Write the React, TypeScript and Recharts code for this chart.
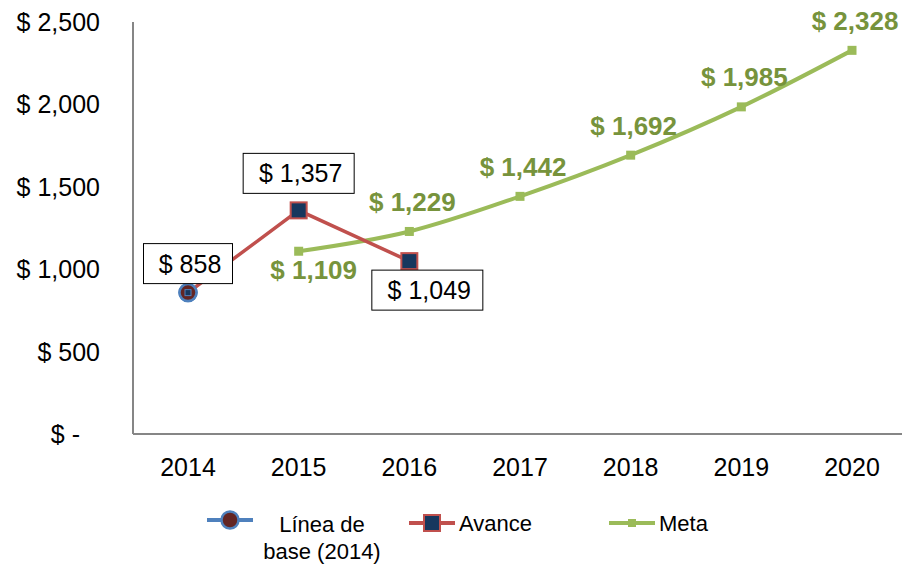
import { LineChart, Line, XAxis, YAxis, Legend, LabelList } from "recharts";

const years = ["2014", "2015", "2016", "2017", "2018", "2019", "2020"];
const lineaBase = [858, null, null, null, null, null, null];
const avance = [858, 1357, 1049, null, null, null, null];
const meta = [null, 1109, 1229, 1442, 1692, 1985, 2328];
const yTicks = [0, 500, 1000, 1500, 2000, 2500];

const FONT = '"Liberation Sans", Arial, sans-serif';
const BLUE = "#4F81BD";
const RED = "#C0504D";
const NAVY = "#17375E";
const GREEN = "#9BBB59";
const GREEN_TEXT = "#77933C";
const AXIS = "#868686";

const data = years.map((year, i) => ({
  year,
  base: lineaBase[i],
  avance: avance[i],
  meta: meta[i],
}));

const money = (v: number) => "$ " + v.toLocaleString("en-US");

function YTick({ x, y, payload }: any) {
  const v = payload.value;
  return (
    <text
      x={v === 0 ? x - 20 : x}
      y={y}
      dy="0.36em"
      textAnchor="end"
      fill="#000"
      fontSize={25}
      fontFamily={FONT}
    >
      {v === 0 ? "$ -" : money(v)}
    </text>
  );
}

// boxed labels for the actual values
function BoxLabel({ x, y, value, index, place }: any) {
  if (value == null || x == null) return null;
  const text = money(value);
  const w = text.length <= 5 ? 89 : 111;
  const h = 40;
  const pos = place[index] || { dx: 0, dy: -32 };
  const cx = x + pos.dx;
  const cy = y + pos.dy;
  return (
    <g>
      <rect x={cx - w / 2} y={cy - h / 2} width={w} height={h} fill="#fff" stroke="#000" strokeWidth={1} />
      <text x={cx + 2} y={cy} dy="0.36em" textAnchor="middle" fontSize={25} fontFamily={FONT} fill="#000">
        {text}
      </text>
    </g>
  );
}

function MetaLabel({ x, y, value, index }: any) {
  if (value == null || x == null) return null;
  const below = index === 1;
  return (
    <text
      x={x + (below ? 15 : 3)}
      y={y + (below ? 18 : -30)}
      dy="0.36em"
      textAnchor="middle"
      fontSize={26}
      fontWeight="bold"
      fontFamily={FONT}
      fill={GREEN_TEXT}
    >
      {money(value)}
    </text>
  );
}

function AvanceDot({ cx, cy, index, value }: any) {
  if (value == null || cy == null) return <g key={index} />;
  if (index === 0) {
    return (
      <g key={index}>
        <circle cx={cx} cy={cy} r={8.5} fill="#632523" stroke={BLUE} strokeWidth={2.5} />
        <rect x={cx - 3} y={cy - 3} width={6} height={6} fill={NAVY} stroke={BLUE} strokeWidth={1} />
      </g>
    );
  }
  return <rect key={index} x={cx - 8} y={cy - 8} width={16} height={16} fill={NAVY} stroke={RED} strokeWidth={2} />;
}

function BaseDot({ cx, cy, index, value }: any) {
  if (value == null || cy == null) return <g key={index} />;
  return <circle key={index} cx={cx} cy={cy} r={8.5} fill="#632523" stroke={BLUE} strokeWidth={2.5} />;
}

function MetaDot({ cx, cy, index, value }: any) {
  if (value == null || cy == null) return <g key={index} />;
  return <rect key={index} x={cx - 4.5} y={cy - 4.5} width={9} height={9} fill={GREEN} />;
}

function LegendBox() {
  const t = { fontSize: 22, fontFamily: FONT, fill: "#000" };
  return (
    <svg width={902} height={66} style={{ display: "block" }}>
      <line x1={207} y1={20} x2={253} y2={20} stroke={BLUE} strokeWidth={4} />
      <circle cx={230} cy={20} r={8.5} fill="#632523" stroke={BLUE} strokeWidth={2.5} />
      <text x={322} y={24} dy="0.36em" textAnchor="middle" {...t}>Línea de</text>
      <text x={322} y={51} dy="0.36em" textAnchor="middle" {...t}>base (2014)</text>

      <line x1={409} y1={23} x2={455} y2={23} stroke={RED} strokeWidth={4} />
      <rect x={424} y={15} width={16} height={16} fill={NAVY} stroke={RED} strokeWidth={2} />
      <text x={459} y={23} dy="0.36em" {...t}>Avance</text>

      <line x1={609} y1={23} x2={655} y2={23} stroke={GREEN} strokeWidth={4} />
      <rect x={628} y={19} width={8} height={8} fill={GREEN} />
      <text x={659} y={23} dy="0.36em" {...t}>Meta</text>
    </svg>
  );
}

const boxPlace: Record<number, { dx: number; dy: number }> = {
  0: { dx: 0, dy: -29 },
  1: { dx: 0, dy: -37 },
  2: { dx: 18, dy: 29 },
};

export default function App() {
  return (
    <div style={{ position: "absolute", left: 0, top: 0, width: 902, height: 566, overflow: "hidden", background: "#fff" }}>
      <LineChart width={912} height={566} data={data} margin={{ top: 22, right: 5, left: 8, bottom: 6 }}>
        <XAxis
          dataKey="year"
          padding={{ left: 55, right: 55 }}
          axisLine={{ stroke: AXIS, strokeWidth: 2 }}
          tickLine={false}
          tickSize={0}
          tickMargin={24}
          height={60}
          tick={{ fill: "#000", fontSize: 25, fontFamily: FONT }}
        />
        <YAxis
          domain={[0, 2500]}
          ticks={yTicks}
          width={125}
          axisLine={{ stroke: AXIS, strokeWidth: 2 }}
          tickLine={false}
          tickSize={0}
          tickMargin={33}
          tick={<YTick />}
        />
        <Legend
          verticalAlign="bottom"
          height={74}
          content={() => <LegendBox />}
          wrapperStyle={{ top: 500, left: 0, width: 902, height: 66 }}
        />
        <Line
          dataKey="meta"
          type="monotone"
          stroke={GREEN}
          strokeWidth={4}
          dot={(p: any) => <MetaDot {...p} />}
          activeDot={false}
          isAnimationActive={false}
        >
          <LabelList dataKey="meta" content={(p: any) => <MetaLabel {...p} />} />
        </Line>
        <Line
          dataKey="base"
          stroke="none"
          dot={(p: any) => <BaseDot {...p} />}
          activeDot={false}
          isAnimationActive={false}
        />
        <Line
          dataKey="avance"
          type="linear"
          stroke={RED}
          strokeWidth={3.5}
          dot={(p: any) => <AvanceDot {...p} />}
          activeDot={false}
          isAnimationActive={false}
        >
          <LabelList dataKey="avance" content={(p: any) => <BoxLabel {...p} place={boxPlace} />} />
        </Line>
      </LineChart>
    </div>
  );
}
